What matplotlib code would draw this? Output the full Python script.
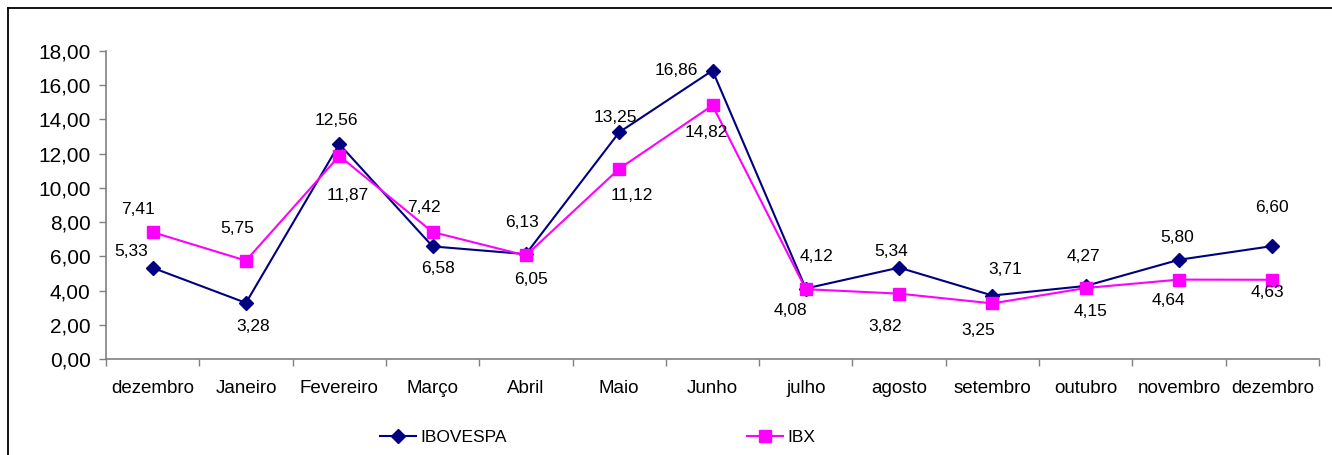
import matplotlib.pyplot as plt
from matplotlib.lines import Line2D
from matplotlib.ticker import FixedLocator, FuncFormatter

plt.rcParams["font.family"] = ["Liberation Sans", "DejaVu Sans"]

months = ["dezembro", "Janeiro", "Fevereiro", "Março", "Abril", "Maio", "Junho",
          "julho", "agosto", "setembro", "outubro", "novembro", "dezembro"]
ibovespa = [5.33, 3.28, 12.56, 6.58, 6.13, 13.25, 16.86, 4.12, 5.34, 3.71, 4.27, 5.80, 6.60]
ibx = [7.41, 5.75, 11.87, 7.42, 6.05, 11.12, 14.82, 4.08, 3.82, 3.25, 4.15, 4.64, 4.63]

# label offsets in pixels (dx, dy), dy positive = up
ibov_offsets = [(-21, 16), (7, -24), (-3, 24), (5, -22), (-4, 32), (-4, 15), (-36, 0),
                (11, 32), (-8, 16), (13, 26), (-2, 29), (-2, 22), (0, 39)]
ibx_offsets = [(-15, 23), (-9, 32), (8, -40), (-9, 25), (5, -24), (13, -27), (-6, -27),
               (-15, -21), (-14, -33), (-14, -27), (5, -24), (-11, -21), (-5, -13)]


def br(v):
    return f"{v:.2f}".replace(".", ",")


fig = plt.figure(figsize=(13.32, 4.55), dpi=100)
ax = fig.add_axes([106 / 1332, 96 / 455, 1213 / 1332, 308 / 455])

x = list(range(len(months)))
ax.plot(x, ibovespa, color="#000080", lw=1.5, marker="D", ms=7, label="IBOVESPA", zorder=3)
ax.plot(x, ibx, color="#FF00FF", lw=1.5, marker="s", ms=8, label="IBX", zorder=3)

for xi, v, (dx, dy) in zip(x, ibovespa, ibov_offsets):
    ax.annotate(br(v), (xi, v), xytext=(dx, dy), textcoords="offset pixels",
                ha="center", va="center", fontsize=12.5)
for xi, v, (dx, dy) in zip(x, ibx, ibx_offsets):
    ax.annotate(br(v), (xi, v), xytext=(dx, dy), textcoords="offset pixels",
                ha="center", va="center", fontsize=12.5)

ax.set_xlim(-0.5, len(months) - 0.5)
ax.set_ylim(0, 18)
ax.set_yticks(range(0, 19, 2))
ax.yaxis.set_major_formatter(FuncFormatter(lambda v, p: br(v)))

ax.xaxis.set_major_locator(FixedLocator([i - 0.5 for i in range(len(months) + 1)]))
ax.xaxis.set_minor_locator(FixedLocator(x))
ax.set_xticklabels([], minor=False)
ax.set_xticklabels(months, minor=True)
ax.tick_params(axis="x", which="minor", length=0, labelsize=13.5, pad=15)
ax.tick_params(axis="x", which="major", length=5, color="#808080", width=1)
ax.tick_params(axis="y", length=5, color="#808080", width=1, labelsize=15, pad=6)

for side in ["top", "right"]:
    ax.spines[side].set_visible(False)
for side in ["left", "bottom"]:
    ax.spines[side].set_color("#808080")
    ax.spines[side].set_linewidth(1.2)

fig.legend(loc="center left", bbox_to_anchor=(380 / 1332, 1 - 437 / 455), ncol=2,
           frameon=False, fontsize=12.5, handlelength=2.1, handletextpad=0.25,
           columnspacing=13.8, borderpad=0, borderaxespad=0)

# outer chart frame (only top and left edges visible)
fig.add_artist(Line2D([8 / 1332, 1.0], [1 - 8 / 455, 1 - 8 / 455], color="black", lw=1.3,
                      transform=fig.transFigure))
fig.add_artist(Line2D([8 / 1332, 8 / 1332], [0, 1 - 8 / 455], color="black", lw=1.3,
                      transform=fig.transFigure))

fig.savefig("out.png", dpi=100)
